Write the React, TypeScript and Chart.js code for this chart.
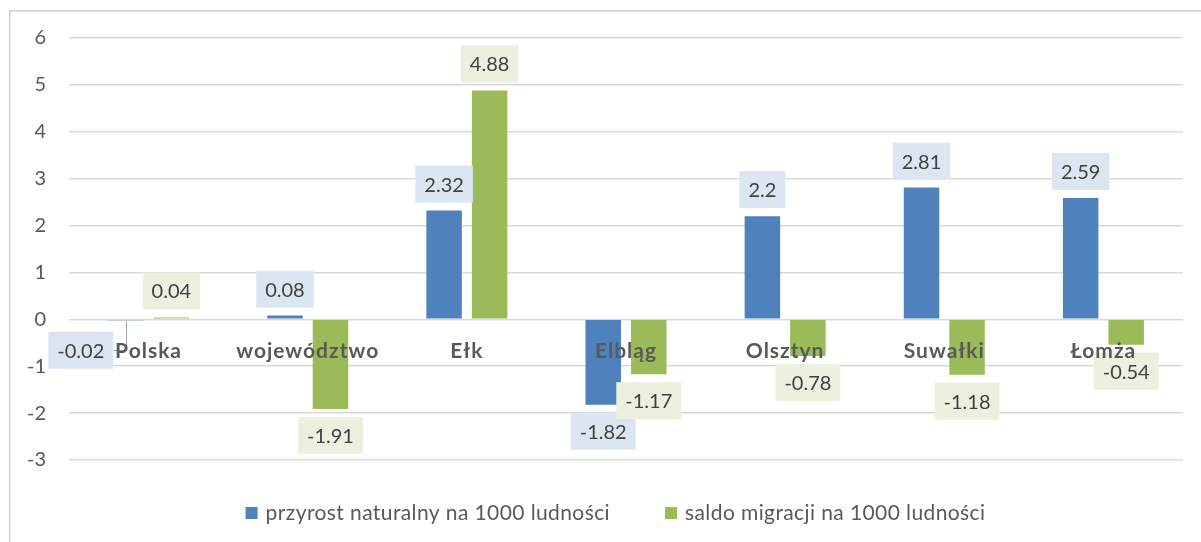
import React, { useEffect, useRef } from "react";
import { Chart, registerables } from "chart.js";

Chart.register(...registerables);

const categories = ["Polska", "województwo", "Ełk", "Elbląg", "Olsztyn", "Suwałki", "Łomża"];
const przyrostNaturalny = [-0.02, 0.08, 2.32, -1.82, 2.2, 2.81, 2.59];
const saldoMigracji = [0.04, -1.91, 4.88, -1.17, -0.78, -1.18, -0.54];
const seriesNames = ["przyrost naturalny na 1000 ludności", "saldo migracji na 1000 ludności"];
const yRange = [-3, 6];

const FONT = "Lato, 'Open Sans', sans-serif";
const BAR_COLORS = ["#4F81BD", "#9BBB59"];
const LABEL_BG = ["#DCE6F2", "#EBF1DE"];
const TEXT = "#404040";
const AXIS_TEXT = "#595959";
const GRID = "#D9D9D9";

// label moved aside with a leader line (dataset 0, first category)
const CALLOUT = { datasetIndex: 0, index: 0, dx: -45, dy: 30 };

const decorPlugin = {
  id: "decor",
  beforeDraw(chart: any) {
    const ctx = chart.ctx;
    ctx.save();
    ctx.strokeStyle = "#D0D0D0";
    ctx.lineWidth = 1.5;
    ctx.strokeRect(9.75, 10.75, chart.width + 20, chart.height + 20);
    ctx.restore();
  },
  afterDatasetsDraw(chart: any) {
    const ctx = chart.ctx;
    ctx.save();
    const labelFont = `20px ${FONT}`;
    chart.data.datasets.forEach((ds: any, di: number) => {
      const meta = chart.getDatasetMeta(di);
      meta.data.forEach((bar: any, i: number) => {
        const v = ds.data[i] as number;
        const text = String(v);
        ctx.font = labelFont;
        (ctx as any).letterSpacing = "0px";
        const tw = ctx.measureText(text).width;
        const w = tw + 18;
        const h = 37;
        let cx = bar.x;
        let cy = v >= 0 ? bar.y - 8 - h / 2 : bar.y + 8 + h / 2;
        if (di === CALLOUT.datasetIndex && i === CALLOUT.index) {
          cx = bar.x + CALLOUT.dx;
          cy = bar.y + CALLOUT.dy;
          ctx.strokeStyle = "#A6A6A6";
          ctx.lineWidth = 1;
          ctx.beginPath();
          ctx.moveTo(Math.round(bar.x) + 0.5, bar.y + 1);
          ctx.lineTo(Math.round(bar.x) + 0.5, Math.round(cy) + 0.5);
          ctx.lineTo(cx + w / 2, Math.round(cy) + 0.5);
          ctx.stroke();
        }
        ctx.fillStyle = LABEL_BG[di];
        ctx.fillRect(cx - w / 2, cy - h / 2, w, h);
        ctx.fillStyle = TEXT;
        ctx.textAlign = "center";
        ctx.textBaseline = "middle";
        ctx.fillText(text, cx, cy + 1);
      });
    });

    // category labels next to the zero line
    const xScale = chart.scales.x;
    const yScale = chart.scales.y;
    const zeroY = yScale.getPixelForValue(0);
    ctx.font = `bold 21px ${FONT}`;
    (ctx as any).letterSpacing = "1px";
    ctx.fillStyle = AXIS_TEXT;
    ctx.textAlign = "center";
    ctx.textBaseline = "alphabetic";
    categories.forEach((c, i) => {
      ctx.fillText(c, xScale.getPixelForValue(i), zeroY + 39);
    });
    ctx.restore();
  },
  afterDraw(chart: any) {
    const ctx = chart.ctx;
    ctx.save();
    ctx.font = `21px ${FONT}`;
    (ctx as any).letterSpacing = "0.4px";
    const box = 12;
    const gapText = 8;
    const gapItem = 55;
    const widths = seriesNames.map((s) => ctx.measureText(s).width);
    const total =
      widths.reduce((a, b) => a + b, 0) +
      seriesNames.length * (box + gapText) +
      gapItem * (seriesNames.length - 1);
    let x = 615.5 - total / 2;
    const cy = 513;
    seriesNames.forEach((s, i) => {
      ctx.fillStyle = BAR_COLORS[i];
      ctx.fillRect(x, cy - box / 2, box, box);
      ctx.fillStyle = AXIS_TEXT;
      ctx.textAlign = "left";
      ctx.textBaseline = "middle";
      ctx.fillText(s, x + box + gapText, cy);
      x += box + gapText + widths[i] + gapItem;
    });
    ctx.restore();
  },
};

export default function App() {
  const ref = useRef<HTMLCanvasElement | null>(null);
  useEffect(() => {
    document.body.style.margin = "0";
    document.body.style.overflow = "hidden";
    if (!ref.current) return;
    const chart = new Chart(ref.current, {
      type: "bar",
      data: {
        labels: categories,
        datasets: [
          {
            label: seriesNames[0],
            data: przyrostNaturalny,
            backgroundColor: BAR_COLORS[0],
            categoryPercentage: 0.572,
            barPercentage: 0.78,
          },
          {
            label: seriesNames[1],
            data: saldoMigracji,
            backgroundColor: BAR_COLORS[1],
            categoryPercentage: 0.572,
            barPercentage: 0.78,
          },
        ],
      },
      options: {
        responsive: false,
        animation: false,
        layout: { padding: { top: 38, bottom: 82, left: 0, right: 18 } },
        plugins: { legend: { display: false }, tooltip: { enabled: false } },
        scales: {
          x: { display: false },
          y: {
            min: yRange[0],
            max: yRange[1],
            afterFit: (scale: any) => {
              scale.width = 69;
            },
            ticks: {
              stepSize: 1,
              padding: 23,
              color: AXIS_TEXT,
              font: { family: FONT, size: 20 },
            },
            grid: { color: GRID, lineWidth: 1.5, drawTicks: false },
            border: { display: false },
          },
        },
      },
      plugins: [decorPlugin],
    });
    return () => chart.destroy();
  }, []);
  return (
    <div style={{ width: 1201, height: 542 }}>
      <canvas ref={ref} width={1201} height={542} style={{ display: "block" }} />
    </div>
  );
}
